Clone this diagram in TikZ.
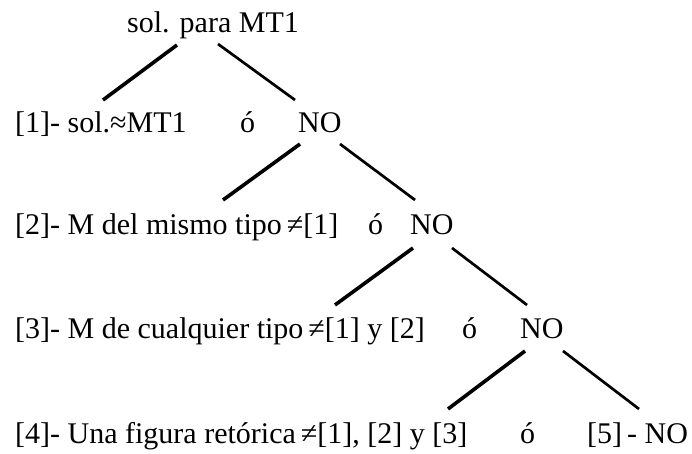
\documentclass[tikz,border=0pt]{standalone}
\usepackage{fontspec}
\setmainfont{Liberation Serif}
\begin{document}
\begin{tikzpicture}[x=1pt,y=-1pt,
  lbl/.style={anchor=base west,inner sep=0pt,font=\fontsize{30}{33}\selectfont},
  thick branch/.style={line width=3.6pt},
  thin branch/.style={line width=2.7pt}]
\useasboundingbox (0,0) rectangle (692,454);

% labels
\node[lbl] (top) at (127,33) {sol. para MT1};
\node[lbl] (r1) at (15,133) {[1]- sol.≈MT1};
\node[lbl] (o1) at (240,133) {ó};
\node[lbl] (n1) at (298,133) {NO};
\node[lbl] (r2) at (15,234) {[2]- M del mismo tipo\,≠[1]};
\node[lbl] (o2) at (368,234) {ó};
\node[lbl] (n2) at (410,234) {NO};
\node[lbl] (r3) at (15,338) {[3]- M de cualquier tipo\,≠[1] y [2]};
\node[lbl] (o3) at (462,338) {ó};
\node[lbl] (n3) at (520,338) {NO};
\node[lbl] (r4) at (15,443) {[4]- Una figura retórica\,≠[1], [2] y [3]};
\node[lbl] (o4) at (520,443) {ó};
\node[lbl] (r5) at (587,443) {[5]\,- NO};

% branch end points
\coordinate (a1) at (177,45);  \coordinate (a2) at (103,100);
\coordinate (b1) at (218,44);  \coordinate (b2) at (295,100);
\coordinate (c1) at (300,144); \coordinate (c2) at (223,200);
\coordinate (d1) at (340,144); \coordinate (d2) at (415,200);
\coordinate (e1) at (413,248); \coordinate (e2) at (335,305);
\coordinate (f1) at (452,248); \coordinate (f2) at (527,305);
\coordinate (g1) at (525,351); \coordinate (g2) at (448,409);
\coordinate (h1) at (563,351); \coordinate (h2) at (639,409);

% branches
\draw[thick branch] (a1) -- (a2);
\draw[thin branch] (b1) -- (b2);
\draw[thick branch] (c1) -- (c2);
\draw[thin branch] (d1) -- (d2);
\draw[thick branch] (e1) -- (e2);
\draw[thin branch] (f1) -- (f2);
\draw[thick branch] (g1) -- (g2);
\draw[thin branch] (h1) -- (h2);
\end{tikzpicture}
\end{document}
